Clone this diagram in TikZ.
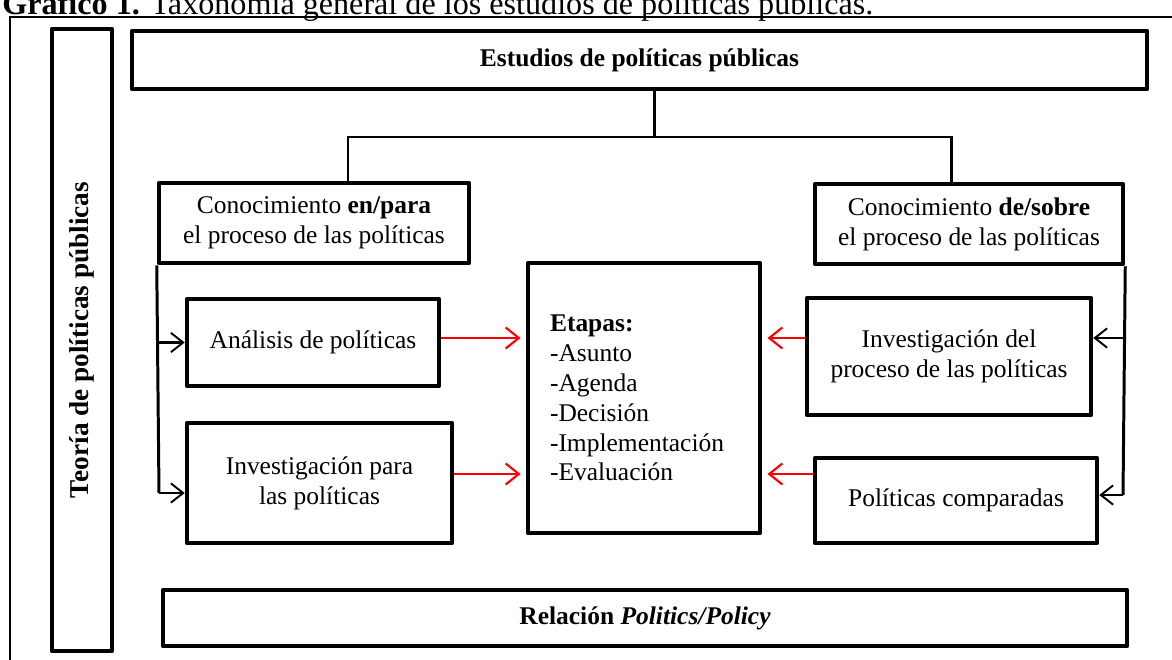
\documentclass[tikz,border=0pt]{standalone}
\usepackage{fontspec}
\setmainfont{Liberation Serif}
\usetikzlibrary{arrows.meta}

\begin{document}
\begin{tikzpicture}[x=0.02cm,y=-0.02cm,
    caja/.style={draw,line width=2.6pt,line join=round,inner sep=0pt,align=center,font=\fontsize{14.5}{17}\selectfont},
    conector/.style={line width=1.7pt},
    flecha/.style={line width=1.6pt,-{Straight Barb[length=7pt,width=11pt,line width=1.1pt]}},
    flecharoja/.style={line width=1.2pt,red,shorten >=3pt,-{Straight Barb[length=7.5pt,width=12pt,line width=1.2pt]}}]
  \useasboundingbox (0,0) rectangle (1172,659);
  \clip (0,0) rectangle (1172,659);
  %\draw[lightgray] (0,0) grid[step=50] (1172,659);
  \node[anchor=base west,inner sep=0pt,font=\fontsize{18.3}{22}\selectfont] (titulo) at (2,14) {\textbf{Gráfico 1.} Taxonomía general de los estudios de políticas públicas.};
  \draw[line width=0.8pt] (10,17) rectangle (1190,680);
  % cajas
  \node[caja,rotate=90,minimum width=12.44cm,minimum height=1.2cm,font=\fontsize{15.5}{18}\selectfont] (teoria) at (82,340) {\textbf{Teoría de políticas públicas}};
  \node[caja,minimum width=20.3cm,minimum height=1.16cm] (estudios) at (639.5,60) {\textbf{Estudios de políticas públicas}};
  \node[caja,minimum width=6.2cm,minimum height=1.6cm] (enpara) at (314,223) {Conocimiento \textbf{en/para}\\el proceso de las políticas};
  \node[caja,minimum width=6.16cm,minimum height=1.6cm] (desobre) at (969,224) {Conocimiento \textbf{de/sobre}\\el proceso de las políticas};
  \node[caja,minimum width=5.04cm,minimum height=1.74cm] (analisis) at (313,342.5) {Análisis de políticas};
  \node[caja,minimum width=5.3cm,minimum height=2.4cm] (invpara) at (319.5,483) {Investigación para\\las políticas};
  \node[caja,text width=3.76cm,inner xsep=0.44cm,minimum height=5.4cm,align=left] (etapas) at (644,398) {\textbf{Etapas:}\\-Asunto\\-Agenda\\-Decisión\\-Implementación\\-Evaluación};
  \node[caja,minimum width=5.68cm,minimum height=2.34cm] (invdel) at (949,356.5) {Investigación del\\proceso de las políticas};
  \node[caja,minimum width=5.64cm,minimum height=1.7cm] (comparadas) at (956,500.5) {Políticas comparadas};
  \node[caja,minimum width=19.28cm,minimum height=1.12cm] (relacion) at (645,618) {\textbf{Relación \textit{Politics/Policy}}};
  % conectores
  \coordinate (split) at (654,137);
  \coordinate (bajaL) at (348,137);
  \coordinate (bajaR) at (951,137);
  \draw[conector] (estudios.south -| split) -- (split);
  \draw[conector] (enpara.north -| bajaL) -- (bajaL) -- (bajaR) -- (desobre.north -| bajaR);
  \coordinate (nivA) at (0,338);
  \coordinate (nivB) at (0,474);
  \coordinate (ramaL) at (159,493);
  \coordinate (ramaR) at (1123,495);
  \draw[conector] (enpara.south west) -- (ramaL);
  \draw[flecha] (ramaL) -- (invpara.west |- ramaL);
  \draw[flecha] (analisis.west -| ramaL) -- (analisis.west);
  \draw[conector] (desobre.south east) -- (ramaR);
  \draw[flecha] (ramaR) -- (comparadas.east |- ramaR);
  \draw[flecha] (ramaR |- nivA) -- (invdel.east |- nivA);
  % flechas rojas
  \draw[flecharoja] (analisis.east |- nivA) -- (etapas.west |- nivA);
  \draw[flecharoja] (invpara.east |- nivB) -- (etapas.west |- nivB);
  \draw[flecharoja] (invdel.west |- nivA) -- (etapas.east |- nivA);
  \draw[flecharoja] (comparadas.west |- nivB) -- (etapas.east |- nivB);
\end{tikzpicture}
\end{document}
